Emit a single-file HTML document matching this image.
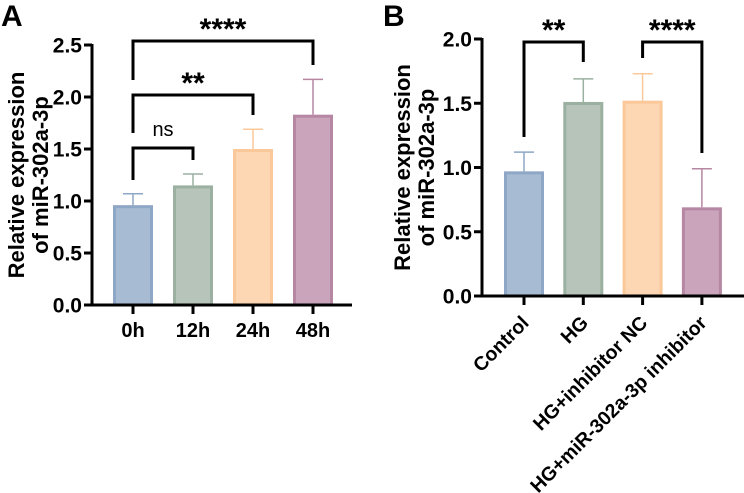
<!DOCTYPE html>
<html><head><meta charset="utf-8">
<style>
html,body{margin:0;padding:0;background:#fff;}
svg{display:block;font-family:"Liberation Sans",Arial,sans-serif;font-weight:bold;}
</style></head>
<body>
<svg id="fig" width="744" height="493" viewBox="0 0 744 493" xmlns="http://www.w3.org/2000/svg">
<text x="1" y="26" font-size="30">A</text>
<text x="383" y="26" font-size="30">B</text>
<g id="pa"></g>
<g id="pb"></g>
</svg>
<script>
const catsA = ["0h","12h","24h","48h"];
const meansA = [0.96, 1.15, 1.50, 1.83];
const errA = [0.11, 0.11, 0.19, 0.34];
const ticksA = [0, 0.5, 1.0, 1.5, 2.0, 2.5];
const catsB = ["Control","HG","HG+inhibitor NC","HG+miR-302a-3p inhibitor"];
const meansB = [0.97, 1.51, 1.52, 0.69];
const errB = [0.15, 0.18, 0.21, 0.30];
const ticksB = [0, 0.5, 1.0, 1.5, 2.0];
const fills = ["#a7bbd3","#b6c4b9","#fdd6b3","#c9a4bb"];
const strokes = ["#8ea7c6","#9bb0a1","#fbc89a","#b687a3"];
const NS="http://www.w3.org/2000/svg";
function mk(parent, tag, attrs){const e=document.createElementNS(NS,tag);for(const k in attrs)e.setAttribute(k,attrs[k]);parent.appendChild(e);return e;}

function draw(g, cfg){
  const y = v => cfg.base - v/cfg.max*(cfg.base-cfg.top);
  const x = i => cfg.x0 + i*cfg.step;
  cfg.means.forEach((m,i)=>{
    const eb=mk(g,'line',{x1:x(i),x2:x(i),y1:y(m),y2:y(m+cfg.err[i]),stroke:strokes[i],'stroke-width':1.5});
    
    
    const cap=mk(g,'line',{x1:x(i)-10,x2:x(i)+10,y1:y(m+cfg.err[i]),y2:y(m+cfg.err[i]),stroke:strokes[i],'stroke-width':1.5});
    
    
    const r=mk(g,'rect',{x:x(i)-cfg.bw/2+1.5,y:y(m)+1.5,width:cfg.bw-3,height:cfg.base-y(m)-1.5,fill:fills[i],stroke:strokes[i],'stroke-width':3});
    
    
  });
  const ya=mk(g,'line',{x1:cfg.ax,x2:cfg.ax,y1:cfg.top-1,y2:cfg.base+1.5,stroke:'#000','stroke-width':3});
  
  
  const xa=mk(g,'line',{x1:cfg.ax-1.5,x2:cfg.xend,y1:cfg.base,y2:cfg.base,stroke:'#000','stroke-width':3});
  
  
  cfg.ticks.forEach(t=>{
    mk(g,'line',{x1:cfg.ax-8,x2:cfg.ax,y1:y(t),y2:y(t),stroke:'#000','stroke-width':3});
    const tl=mk(g,'text',{x:cfg.ax-10,y:y(t)+7.5,'font-size':21,'text-anchor':'end'});
    tl.textContent=t.toFixed(1);
    
    
  });
  cfg.cats.forEach((c,i)=>{
    mk(g,'line',{x1:x(i),x2:x(i),y1:cfg.base,y2:cfg.base+9,stroke:'#000','stroke-width':3});
    let t;
    if(cfg.rot){
      const px=x(i)+6, py=cfg.base+28;
      t=mk(g,'text',{x:px,y:py,'font-size':19.5,'text-anchor':'end',transform:`rotate(-45 ${px} ${py})`});
    } else {
      t=mk(g,'text',{x:x(i),y:cfg.base+32,'font-size':20,'text-anchor':'middle'});
    }
    t.textContent=c;
    
    
  });
  const tt=mk(g,'text',{transform:`translate(${cfg.tx},${(cfg.base+cfg.top)/2}) rotate(-90)`,'font-size':22,'text-anchor':'middle'});
  
  
  const t1=mk(tt,'tspan',{x:0,dy:0}); t1.textContent='Relative expression';
  const t2=mk(tt,'tspan',{x:0,dy:24}); t2.textContent='of miR-302a-3p';
  cfg.br.forEach(b=>{
    const xa_=x(b.a), xb_=x(b.b);
    const p=mk(g,'path',{d:`M${xa_},${b.ly} V${b.y} H${xb_} V${b.ry}`,fill:'none',stroke:'#000','stroke-width':3});
    
    
    const isNs=b.txt==='ns';
    const s=mk(g,'text',{x:(xa_+xb_)/2,y:b.y+b.ty,'font-size':isNs?20:30,'text-anchor':'middle','font-weight':isNs?'normal':'bold'});
    s.textContent=b.txt;
    
    
  });
}
draw(document.getElementById('pa'),{cats:catsA,means:meansA,err:errA,ticks:ticksA,max:2.5,base:305,top:45,ax:92,xend:352,x0:133,step:60,bw:40,tx:24,rot:false,
  br:[{a:0,b:1,y:148,ly:180,ry:160,txt:'ns',ty:-12},{a:0,b:2,y:95,ly:133,ry:115,txt:'**',ty:-2},{a:0,b:3,y:41,ly:80,ry:65,txt:'****',ty:-2}]});
draw(document.getElementById('pb'),{cats:catsB,means:meansB,err:errB,ticks:ticksB,max:2.0,base:296,top:39,ax:482,xend:744,x0:524,step:59.3,bw:40,tx:410,rot:true,
  br:[{a:0,b:1,y:42,ly:137,ry:62,txt:'**',ty:-2},{a:2,b:3,y:42,ly:58,ry:153,txt:'****',ty:-2}]});
</script>
</body></html>
